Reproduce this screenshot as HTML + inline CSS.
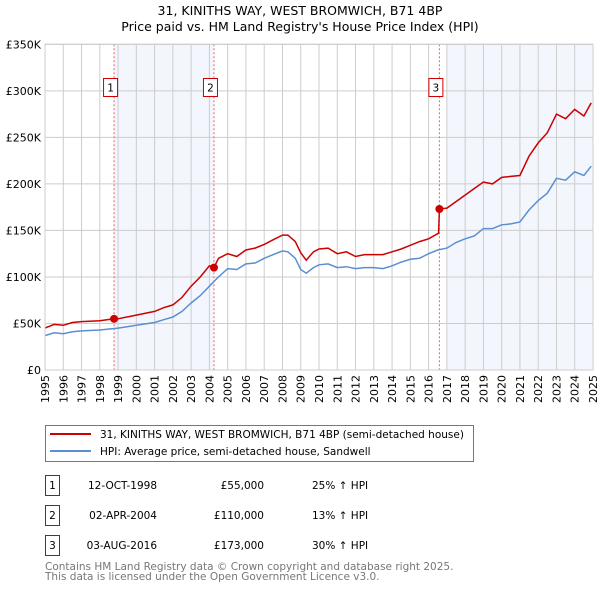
<!DOCTYPE html>
<html><head><meta charset="utf-8"><style>
body{margin:0;background:#fff;font-family:"Liberation Sans","DejaVu Sans",sans-serif;}
svg text{font-family:"DejaVu Sans","Liberation Sans",sans-serif;}
</style></head><body>
<svg id="c" width="600" height="590" xmlns="http://www.w3.org/2000/svg">
<text x="300" y="15" text-anchor="middle" font-size="12.5">31, KINITHS WAY, WEST BROMWICH, B71 4BP</text>
<text x="300" y="31" text-anchor="middle" font-size="12.5">Price paid vs. HM Land Registry's House Price Index (HPI)</text>
<g id="plot"></g>
<rect x="45.5" y="425.5" width="428" height="36" fill="#fff" stroke="#777"/>
<line x1="50" y1="434" x2="91" y2="434" stroke="#cc0000" stroke-width="2"/>
<text x="100" y="438" font-size="10.5">31, KINITHS WAY, WEST BROMWICH, B71 4BP (semi-detached house)</text>
<line x1="50" y1="451" x2="91" y2="451" stroke="#5b8fd0" stroke-width="2"/>
<text x="100" y="455" font-size="10.5">HPI: Average price, semi-detached house, Sandwell</text>
<g font-size="10.5">
<rect x="45.5" y="475.5" width="14" height="20" fill="none" stroke="#cc0000"/><text x="52.5" y="489" text-anchor="middle">1</text>
<text x="157" y="489" text-anchor="end">12-OCT-1998</text><text x="264" y="489" text-anchor="end">£55,000</text><text x="312" y="489">25% ↑ HPI</text>
<rect x="45.5" y="505.5" width="14" height="20" fill="none" stroke="#cc0000"/><text x="52.5" y="519" text-anchor="middle">2</text>
<text x="157" y="519" text-anchor="end">02-APR-2004</text><text x="264" y="519" text-anchor="end">£110,000</text><text x="312" y="519">13% ↑ HPI</text>
<rect x="45.5" y="535.5" width="14" height="20" fill="none" stroke="#cc0000"/><text x="52.5" y="549" text-anchor="middle">3</text>
<text x="157" y="549" text-anchor="end">03-AUG-2016</text><text x="264" y="549" text-anchor="end">£173,000</text><text x="312" y="549">30% ↑ HPI</text>
</g>
<text x="45" y="570" font-size="10.5" fill="#777">Contains HM Land Registry data © Crown copyright and database right 2025.</text>
<text x="45" y="580" font-size="10.5" fill="#777">This data is licensed under the Open Government Licence v3.0.</text>
</svg>
<script>
const hpiYears=[1995,1995.5,1996,1996.5,1997,1998,1999,2000,2001,2001.5,2002,2002.5,2003,2003.5,2004,2004.5,2005,2005.5,2006,2006.5,2007,2007.5,2008,2008.3,2008.7,2009,2009.3,2009.7,2010,2010.5,2011,2011.5,2012,2012.5,2013,2013.5,2014,2014.5,2015,2015.5,2016,2016.5,2017,2017.5,2018,2018.5,2019,2019.5,2020,2020.5,2021,2021.5,2022,2022.5,2023,2023.5,2024,2024.5,2024.9];
const hpiValues=[37,40,39,41,42,43,45,48,51,54,57,63,72,80,90,100,109,108,114,115,120,124,128,127,120,108,104,110,113,114,110,111,109,110,110,109,112,116,119,120,125,129,131,137,141,144,152,152,156,157,159,172,182,190,206,204,213,209,219];
const priceYears=[1995,1995.5,1996,1996.5,1997,1998,1998.78,1999,2000,2001,2001.5,2002,2002.5,2003,2003.5,2004,2004.25,2004.5,2005,2005.5,2006,2006.5,2007,2007.5,2008,2008.3,2008.7,2009,2009.3,2009.7,2010,2010.5,2011,2011.5,2012,2012.5,2013,2013.5,2014,2014.5,2015,2015.5,2016,2016.55,2016.59,2017,2017.5,2018,2018.5,2019,2019.5,2020,2020.5,2021,2021.5,2022,2022.5,2023,2023.5,2024,2024.5,2024.9];
const priceValues=[45,49,48,51,52,53,55,55,59,63,67,70,78,90,100,112,110,120,125,122,129,131,135,140,145,145,138,126,118,127,130,131,125,127,122,124,124,124,127,130,134,138,141,147,173,174,181,188,195,202,200,207,208,209,230,244,255,275,270,280,273,287];
const saleYears=[1998.78,2004.25,2016.59];
const saleValues=[55,110,173];
const saleLabels=["1","2","3"];
const yTicks=[0,50,100,150,200,250,300,350];
const yTickLabels=["£0","£50K","£100K","£150K","£200K","£250K","£300K","£350K"];
const xTicks=[1995,1996,1997,1998,1999,2000,2001,2002,2003,2004,2005,2006,2007,2008,2009,2010,2011,2012,2013,2014,2015,2016,2017,2018,2019,2020,2021,2022,2023,2024,2025];

const X0=45,X1=593,Y0=370,Y1=44.3;
const sx=y=>X0+(y-1995)/30*(X1-X0);
const sy=v=>Y0-v/350*(Y0-Y1);
const NS="http://www.w3.org/2000/svg";
const g=document.getElementById('plot');
function mk(t,a){const e=document.createElementNS(NS,t);for(const k in a)e.setAttribute(k,a[k]);g.appendChild(e);return e;}
let e;
e=mk('rect',{x:sx(1998.78),y:Y1,width:sx(2004.25)-sx(1998.78),height:Y0-Y1,fill:'#eef3fc',opacity:0.7});


e=mk('rect',{x:sx(2017),y:Y1,width:X1-sx(2017),height:Y0-Y1,fill:'#eef3fc',opacity:0.7});


xTicks.forEach(t=>{
 e=mk('line',{x1:sx(t),x2:sx(t),y1:Y1,y2:Y0,stroke:'#ccc'});
 
 
 e=mk('text',{x:0,y:0,'font-size':11,'text-anchor':'end',transform:`translate(${sx(t)+4},${Y0+5}) rotate(-90)`});
 e.textContent=t;
 
 
});
yTicks.forEach((t,i)=>{
 e=mk('line',{x1:X0,x2:X1,y1:sy(t),y2:sy(t),stroke:'#ccc'});
 
 
 e=mk('text',{x:X0-4,y:sy(t)+4,'font-size':11,'text-anchor':'end'});
 e.textContent=yTickLabels[i];
 
 
});
saleYears.forEach((s,i)=>{
 e=mk('line',{x1:sx(s),x2:sx(s),y1:Y1,y2:Y0,stroke:'#f06060','stroke-dasharray':'2,2'});
 
 
 e=mk('rect',{x:sx(s)-10.5,y:78.5,width:14,height:18,fill:'#fff',stroke:'#cc0000'});
 
 
 e=mk('text',{x:sx(s)-3.5,y:91.5,'font-size':10.5,'text-anchor':'middle'});
 e.textContent=saleLabels[i];
 
 
});
e=mk('path',{d:hpiYears.map((y,i)=>(i?'L':'M')+sx(y).toFixed(1)+','+sy(hpiValues[i]).toFixed(1)).join(''),fill:'none',stroke:'#5b8fd0','stroke-width':1.5});


e=mk('path',{d:priceYears.map((y,i)=>(i?'L':'M')+sx(y).toFixed(1)+','+sy(priceValues[i]).toFixed(1)).join(''),fill:'none',stroke:'#cc0000','stroke-width':1.5});


saleYears.forEach((s,i)=>{
 e=mk('circle',{cx:sx(s),cy:sy(saleValues[i]),r:4,fill:'#cc0000'});
 
 
});
e=mk('rect',{x:X0,y:Y1,width:X1-X0,height:Y0-Y1,fill:'none',stroke:'#ccc'});


</script>
</body></html>
